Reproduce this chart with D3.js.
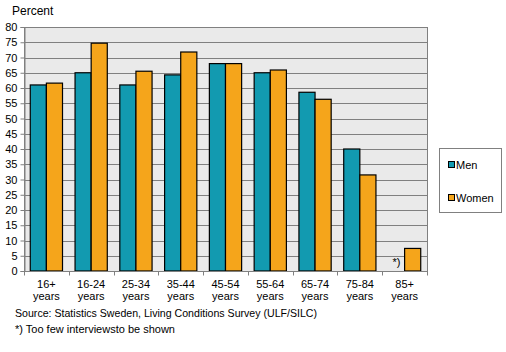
<!DOCTYPE html>
<html>
<head>
<meta charset="utf-8">
<script src="https://cdn.jsdelivr.net/npm/d3@7"></script>
<style>
  body { margin: 0; background: #fff; }
  text { font-family: "Liberation Sans", Arial, sans-serif; }
</style>
</head>
<body>
<div id="chart"></div>
<script>
const categories = ['16+ years', '16-24 years', '25-34 years', '35-44 years', '45-54 years',
  '55-64 years', '65-74 years', '75-84 years', '85+ years'];
const men = [61, 65, 61, 64.3, 68, 65, 58.6, 40, null];
const women = [61.6, 74.7, 65.5, 71.8, 68, 65.9, 56.3, 31.5, 7.4];
const seriesNames = ['Men', 'Women'];
const yTicks = d3.range(0, 81, 5);

const colorMen = '#129ab0';
const colorWomen = '#f5a51b';

const svg = d3.select('#chart')
  .append('svg')
  .attr('width', 506)
  .attr('height', 352)

const plotLeft = 24, plotRight = 427, plotTop = 27, plotBottom = 271;

const x = d3.scaleBand()
  .domain(categories)
  .range([plotLeft, plotRight])
  .paddingInner(0.28)
  .paddingOuter(0.14)

const x1 = d3.scaleBand()
  .domain(seriesNames)
  .range([0, x.bandwidth()])

const y = d3.scaleLinear()
  .domain([0, 80])
  .range([plotBottom, plotTop])

const color = d3.scaleOrdinal(seriesNames, [colorMen, colorWomen]);

// plot background
svg.append('rect')
  .attr('x', plotLeft + 0.5)
  .attr('y', plotTop + 0.5)
  .attr('width', plotRight - plotLeft)
  .attr('height', plotBottom - plotTop)
  .attr('fill', '#eaeaea')
  .attr('stroke', '#808080')

// gridlines
svg.append('g')
  .selectAll('line')
  .data(yTicks.filter(d => d > 0))
  .enter()
  .append('line')
  .attr('x1', plotLeft)
  .attr('x2', plotRight)
  .attr('y1', d => Math.round(y(d)) + 0.5)
  .attr('y2', d => Math.round(y(d)) + 0.5)
  .attr('stroke', '#808080')
  .attr('stroke-width', 1)

// bars
const rows = categories.map((c, i) => ({ cat: c, values: [men[i], women[i]] }));
const groups = svg.append('g')
  .selectAll('g')
  .data(rows)
  .enter()
  .append('g')
  .attr('transform', d => 'translate(' + x(d.cat) + ',0)')

groups.selectAll('rect')
  .data(d => d.values.map((v, j) => ({ key: seriesNames[j], value: v })).filter(d => d.value != null))
  .enter()
  .append('rect')
  .attr('x', d => x1(d.key))
  .attr('y', d => y(d.value))
  .attr('width', x1.bandwidth())
  .attr('height', d => y(0) - y(d.value))
  .attr('fill', d => color(d.key))
  .attr('stroke', '#000')
  .attr('stroke-width', 1.2)

// note for missing value
categories.forEach((c, i) => {
  if (men[i] == null) {
    svg.append('text')
      .attr('x', x(c) + x1('Men') + x1.bandwidth() / 2)
      .attr('y', plotBottom - 5)
      .attr('text-anchor', 'middle')
      .style('font-size', '11px')
      .attr('fill', '#000')
      .text('*)')
  }
})

// y axis
const yAxis = svg.append('g')
  .attr('transform', 'translate(' + (plotLeft + 0.5) + ',0)')
  .call(d3.axisLeft(y).tickValues(yTicks).tickSize(4).tickPadding(3))
yAxis.select('.domain').attr('stroke', '#808080')
yAxis.selectAll('line').attr('stroke', '#808080')
yAxis.selectAll('text').style('font-size', '11px').attr('fill', '#000')

// x axis
const xAxis = svg.append('g')
  .attr('transform', 'translate(0,' + (plotBottom + 0.5) + ')')
xAxis.append('line')
  .attr('x1', plotLeft)
  .attr('x2', plotRight)
  .attr('stroke', '#808080')
xAxis.selectAll('.tick')
  .data(d3.range(categories.length + 1))
  .enter()
  .append('line')
  .attr('x1', i => Math.round(plotLeft + i * x.step()) + 0.5)
  .attr('x2', i => Math.round(plotLeft + i * x.step()) + 0.5)
  .attr('y1', 0)
  .attr('y2', 4)
  .attr('stroke', '#808080')

const labels = xAxis.selectAll('text')
  .data(categories)
  .enter()
  .append('text')
  .attr('text-anchor', 'middle')
  .attr('fill', '#000')
  .style('font-size', '11px')
labels.append('tspan')
  .attr('x', d => x(d) + x.bandwidth() / 2)
  .attr('y', 16)
  .text(d => d.split(' ')[0])
labels.append('tspan')
  .attr('x', d => x(d) + x.bandwidth() / 2)
  .attr('y', 28)
  .text(d => d.split(' ')[1])

// title
svg.append('text')
  .attr('x', 12)
  .attr('y', 15)
  .style('font-size', '12px')
  .attr('fill', '#000')
  .text('Percent')

// legend
svg.append('rect')
  .attr('x', 439.5)
  .attr('y', 148.5)
  .attr('width', 62)
  .attr('height', 64)
  .attr('fill', '#fff')
  .attr('stroke', '#808080')
seriesNames.forEach((name, i) => {
  const ly = 165 + i * 33;
  svg.append('rect')
    .attr('x', 448.5)
    .attr('y', ly - 3.5)
    .attr('width', 6)
    .attr('height', 6)
    .attr('fill', color(name))
    .attr('stroke', '#000')
  svg.append('text')
    .attr('x', 456)
    .attr('y', ly + 4)
    .style('font-size', '11px')
    .attr('fill', '#000')
    .text(name)
})

// footnotes
svg.append('text')
  .attr('x', 15)
  .attr('y', 317)
  .style('font-size', '10.6px')
  .attr('fill', '#000')
  .text('Source: Statistics Sweden, Living Conditions Survey (ULF/SILC)')
svg.append('text')
  .attr('x', 15)
  .attr('y', 333)
  .style('font-size', '11px')
  .attr('fill', '#000')
  .text('*) Too few interviewsto be shown')
</script>
</body>
</html>
